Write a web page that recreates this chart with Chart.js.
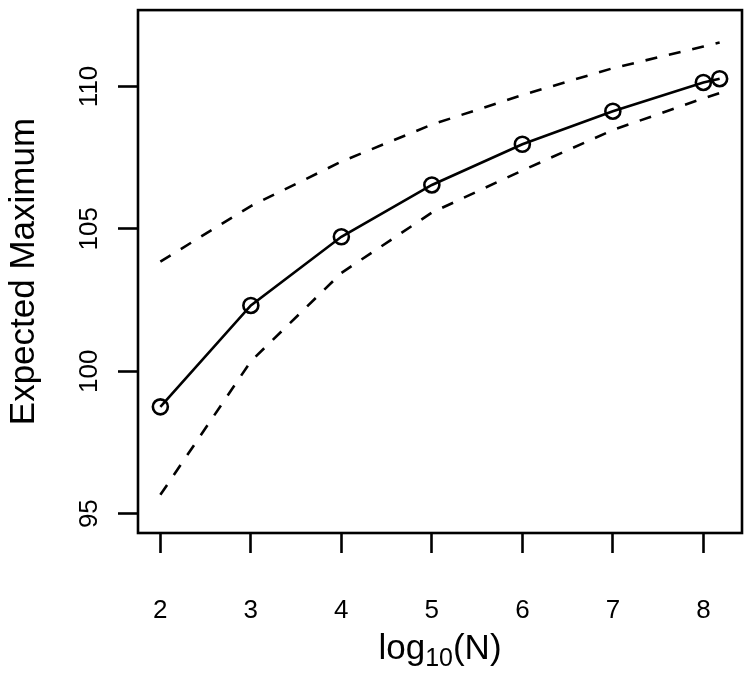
<!DOCTYPE html>
<html>
<head>
<meta charset="utf-8">
<script src="https://cdn.jsdelivr.net/npm/chart.js@4.4.1/dist/chart.umd.min.js"></script>
<style>
    body { margin: 0; background: #fff; }
    canvas { display: block; }
</style>
</head>
<body>
<canvas id="myChart" width="753" height="674"></canvas>
<script>
// data
const logN = [2, 3, 4, 5, 6, 7, 8, 8.18];
const expectedMax = [98.75, 102.31, 104.72, 106.54, 107.97, 109.13, 110.14, 110.27];
const upperBand = [103.85, 105.80, 107.36, 108.66, 109.70, 110.64, 111.40, 111.54];
const lowerBand = [95.66, 100.35, 103.45, 105.57, 107.05, 108.47, 109.58, 109.77];
const xTicks = [2, 3, 4, 5, 6, 7, 8];
const yTicks = [95, 100, 105, 110];

const FONT = "'Liberation Sans', Arial, sans-serif";

function toPoints(ys) {
    return logN.map((x, i) => ({ x: x, y: ys[i] }));
}

// box around the plot region, like R's box()
const boxPlugin = {
    id: 'box',
    afterDraw(chart) {
        const a = chart.chartArea;
        const ctx = chart.ctx;
        ctx.save();
        ctx.strokeStyle = '#000';
        ctx.lineWidth = 2.6;
        ctx.strokeRect(a.left, a.top, a.right - a.left, a.bottom - a.top);
        ctx.restore();
    }
};

// tick labels, placed from the scales (y labels run upwards like R)
const tickLabelPlugin = {
    id: 'tickLabels',
    afterDraw(chart) {
        const ctx = chart.ctx;
        const xs = chart.scales.x;
        const ys = chart.scales.y;
        ctx.save();
        ctx.fillStyle = '#000';
        ctx.font = '26px ' + FONT;
        ctx.textAlign = 'center';
        ctx.textBaseline = 'alphabetic';
        xs.ticks.forEach(t => {
            ctx.fillText(String(t.value), xs.getPixelForValue(t.value), 618);
        });
        ys.ticks.forEach(t => {
            ctx.save();
            ctx.translate(97, ys.getPixelForValue(t.value));
            ctx.rotate(-Math.PI / 2);
            ctx.fillText(String(t.value), 0, 0);
            ctx.restore();
        });
        ctx.restore();
    }
};

// x axis title with subscript: log10(N)
const xTitlePlugin = {
    id: 'xTitle',
    afterDraw(chart) {
        const a = chart.chartArea;
        const ctx = chart.ctx;
        const big = '35px ' + FONT;
        const small = '25px ' + FONT;
        ctx.save();
        ctx.fillStyle = '#000';
        ctx.textBaseline = 'alphabetic';
        ctx.font = big;
        const w1 = ctx.measureText('log').width;
        const w3 = ctx.measureText('(N)').width;
        ctx.font = small;
        const w2 = ctx.measureText('10').width;
        const total = w1 + w2 + w3;
        let x = (a.left + a.right) / 2 - total / 2;
        const base = 659;
        ctx.font = big;
        ctx.fillText('log', x, base);
        x += w1;
        ctx.font = small;
        ctx.fillText('10', x, base + 7);
        x += w2;
        ctx.font = big;
        ctx.fillText('(N)', x, base);
        ctx.restore();
    }
};

const ctx = document.getElementById('myChart');
const myChart = new Chart(ctx, {
    type: 'line',
    data: {
        datasets: [{
            label: 'mean',
            data: toPoints(expectedMax),
            borderColor: '#000',
            borderWidth: 2.6,
            pointStyle: 'circle',
            pointRadius: 7.5,
            pointBorderWidth: 2.6,
            pointBorderColor: '#000',
            pointBackgroundColor: 'rgba(0,0,0,0)',
            tension: 0
        }, {
            label: 'upper',
            data: toPoints(upperBand),
            borderColor: '#000',
            borderWidth: 2.6,
            borderDash: [12, 12],
            pointRadius: 0,
            tension: 0
        }, {
            label: 'lower',
            data: toPoints(lowerBand),
            borderColor: '#000',
            borderWidth: 2.6,
            borderDash: [12, 12],
            pointRadius: 0,
            tension: 0
        }]
    },
    options: {
        responsive: false,
        animation: false,
        layout: { padding: { left: 0, top: 10, right: 11, bottom: 0 } },
        plugins: {
            legend: { display: false },
            tooltip: { enabled: false }
        },
        scales: {
            x: {
                type: 'linear',
                min: 1.753,
                max: 8.427,
                afterBuildTicks: s => { s.ticks = xTicks.map(v => ({ value: v })); },
                afterFit: s => { s.height = 141; },
                border: { display: false },
                grid: {
                    display: true,
                    drawOnChartArea: false,
                    drawTicks: true,
                    tickLength: 20,
                    tickWidth: 2.6,
                    tickColor: '#000'
                },
                ticks: { display: false }
            },
            y: {
                type: 'linear',
                min: 94.32,
                max: 112.68,
                afterBuildTicks: s => { s.ticks = yTicks.map(v => ({ value: v })); },
                afterFit: s => { s.width = 138; },
                border: { display: false },
                grid: {
                    display: true,
                    drawOnChartArea: false,
                    drawTicks: true,
                    tickLength: 20,
                    tickWidth: 2.6,
                    tickColor: '#000'
                },
                ticks: { display: false },
                title: {
                    display: true,
                    text: 'Expected Maximum',
                    color: '#000',
                    padding: { top: 3, bottom: 0 },
                    font: { family: FONT, size: 35 }
                }
            }
        }
    },
    plugins: [boxPlugin, tickLabelPlugin, xTitlePlugin]
});
</script>
</body>
</html>
